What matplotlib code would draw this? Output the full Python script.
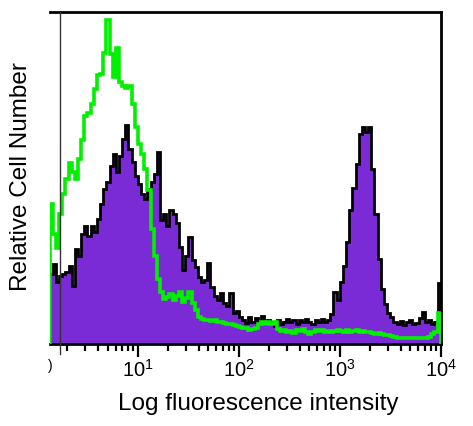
import numpy as np
import matplotlib
matplotlib.use("Agg")
import matplotlib.pyplot as plt
from matplotlib.ticker import LogLocator, FuncFormatter, NullFormatter

plt.rcParams['font.family'] = ['Liberation Sans', 'DejaVu Sans']
plt.rcParams['mathtext.fontset'] = 'custom'
plt.rcParams['mathtext.rm'] = 'Liberation Sans'

# channel bins: 1/32 decade each, first visible bin starts at 10^0.125
bins_per_decade = 32
first_log = 0.125

stained = [70, 80, 62, 68, 70, 72, 78, 58, 95, 88,
           110, 118, 108, 118, 112, 125, 140, 155, 162, 178,
           190, 172, 188, 205, 219, 195, 182, 168, 160, 150,
           145, 155, 162, 170, 192, 124, 130, 118, 134, 130,
           121, 97, 74, 88, 107, 84, 77, 67, 62, 64,
           81, 57, 48, 44, 51, 41, 38, 51, 31, 33,
           27, 24, 21, 27, 22, 26, 22, 28, 20, 24,
           22, 18, 24, 20, 22, 25, 22, 24, 20, 24,
           22, 25, 22, 20, 24, 22, 25, 22, 24, 30,
           52, 44, 62, 78, 102, 134, 156, 180, 210, 217,
           212, 217, 175, 130, 85, 55, 40, 31, 27, 22,
           20, 23, 19, 22, 24, 20, 21, 26, 32, 22,
           24, 20, 22, 61]

control = [140, 110, 96, 130, 150, 165, 181, 172, 165, 185,
           204, 228, 231, 240, 255, 269, 270, 291, 324, 290,
           267, 296, 262, 258, 256, 258, 240, 217, 200, 190,
           175, 154, 115, 88, 65, 52, 45, 47, 50, 44,
           48, 52, 42, 46, 52, 41, 34, 27, 25, 24,
           24, 23, 24, 22, 22, 21, 20, 20, 19, 18,
           17, 16, 16, 14, 15, 16, 20, 22, 20, 22,
           20, 22, 15, 13, 14, 12, 13, 11, 14, 13,
           15, 12, 10, 12, 14, 13, 14, 12, 13, 12,
           13, 14, 13, 12, 14, 12, 13, 14, 12, 13,
           12, 12, 11, 10, 11, 10, 9, 9, 8, 7,
           6, 6, 6, 6, 6, 6, 6, 6, 6, 6,
           7, 10, 12, 31]

major_ticks = [1e1, 1e2, 1e3, 1e4]

edges = 10 ** (first_log + np.arange(len(stained) + 1) / bins_per_decade)

fig = plt.figure(figsize=(4.73, 4.26), dpi=100)
ax = fig.add_axes([50 / 473, 82 / 426, 391 / 473, 332 / 426])

purple = '#7A2BD6'
green = '#00F000'

ax.stairs(stained, edges, fill=True, color=purple, zorder=2)
ax.stairs(stained, edges, color='black', lw=2.0, zorder=3)
ax.stairs(control, edges, color=green, lw=2.6, zorder=4)

ax.axvline(1.7, ymin=-0.03, ymax=1, color='#333333', lw=1.0, zorder=5, clip_on=False)

ax.set_xscale('log')
ax.set_xlim(10 ** 0.129, 10 ** 4.003)
ax.set_ylim(0, 332)

for s in ['top', 'right', 'bottom']:
    ax.spines[s].set_linewidth(2.0)
    ax.spines[s].set_color('black')
ax.spines['left'].set_visible(False)

ax.set_yticks([])
ax.xaxis.set_major_locator(LogLocator(base=10, numticks=10))
ax.xaxis.set_minor_locator(LogLocator(base=10, subs=np.arange(2, 10), numticks=20))
ax.xaxis.set_major_formatter(FuncFormatter(
    lambda v, p: r'$\mathregular{10^{%d}}$' % int(round(np.log10(v)))))
ax.xaxis.set_minor_formatter(NullFormatter())
ax.tick_params(axis='x', which='major', length=9, width=1.6, direction='out',
               labelsize=14.5, pad=2)
ax.tick_params(axis='x', which='minor', length=5, width=1.6, direction='out')

fig.text(258 / 473, (426 - 410) / 426, 'Log fluorescence intensity',
         ha='center', va='baseline', fontsize=17.5)
fig.text(21 / 473, (426 - 177) / 426, 'Relative Cell Number',
         ha='center', va='center', rotation=90, fontsize=17.5)
fig.text(50 / 473, (426 - 366) / 426, ')', ha='center', va='center', fontsize=10)

fig.savefig('out.png', dpi=100)
